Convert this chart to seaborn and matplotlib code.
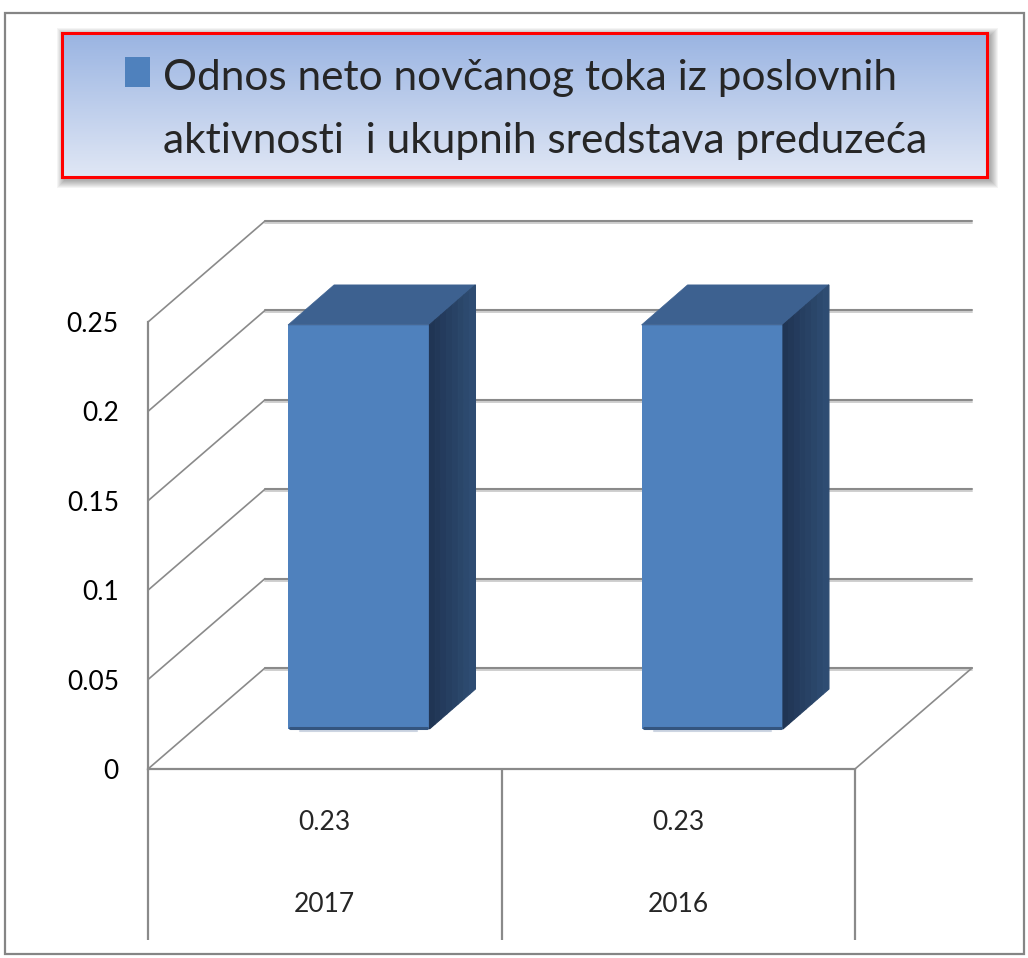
import matplotlib
matplotlib.use("Agg")
import matplotlib.pyplot as plt
import matplotlib.transforms as mtransforms
from matplotlib.colors import LinearSegmentedColormap
from matplotlib.patches import Polygon, Rectangle
import numpy as np
import seaborn as sns

# podaci
years = ["2017", "2016"]
ratio = [0.226, 0.226]
table_values = ["0.23", "0.23"]
legend_lines = ["Odnos neto novčanog toka iz poslovnih",
                "aktivnosti  i ukupnih sredstava preduzeća"]
y_ticks = [0, 0.05, 0.1, 0.15, 0.2, 0.25]
y_tick_labels = ["0", "0.05", "0.1", "0.15", "0.2", "0.25"]

W, H = 1028, 958
DPI = 100
BAR = "#4F81BD"
TOP = "#3d6190"
GRID = "#8a8a8a"
GRID_LIGHT = "#cfcfcf"

sns.set_style("white")
plt.rcParams["font.family"] = ["Liberation Sans Narrow", "Lato", "DejaVu Sans"]


def fx(px):
    return px / W


def fy(py):
    return 1 - py / H


def shift(dx, dy):
    # pomeranje u pikselima
    return mtransforms.ScaledTranslation(dx / DPI, dy / DPI, fig.dpi_scale_trans)


fig = plt.figure(figsize=(W / DPI, H / DPI), dpi=DPI)
ax = fig.add_axes([fx(148), fy(769), (855 - 148) / W, (769 - 322) / H])
ax.patch.set_alpha(0)

sns.barplot(x=years, y=ratio, ax=ax, color=BAR, saturation=1, width=0.40,
            zorder=3)
ax.set_xlim(-0.5, 1.5)
ax.set_ylim(0, 0.25)

ident = mtransforms.IdentityTransform()
depth = np.array([117, 101])

# zadnji zid i pod
back = ax.transData + shift(*depth)
for y in y_ticks:
    ax.plot([-0.5, 1.5], [y, y], transform=back + shift(0, -2), color=GRID_LIGHT,
            lw=1.4, clip_on=False, zorder=0.4)
    ax.plot([-0.5, 1.5], [y, y], transform=back, color=GRID, lw=1.5,
            clip_on=False, zorder=0.5)
    p0 = ax.transData.transform((-0.5, y))
    p1 = p0 + depth
    ax.plot([p0[0], p1[0]], [p0[1], p1[1]], transform=ident, color=GRID,
            lw=1.2, clip_on=False, zorder=0.5)
p0 = ax.transData.transform((1.5, 0))
p1 = p0 + depth
ax.plot([p0[0], p1[0]], [p0[1], p1[1]], transform=ident, color=GRID, lw=1.2,
        clip_on=False, zorder=0.5)

# 3D stubici
bar_shift = shift(34, 40)
bar_depth = np.array([46, 40])
side = LinearSegmentedColormap.from_list("side", ["#1f3352", "#2f4e74"])
for p in ax.patches:
    p.set_transform(ax.transData + bar_shift)
    p.set_edgecolor("none")
    (x0, y0), (x1, y1) = (ax.transData + bar_shift).transform(
        [[p.get_x(), p.get_y()], [p.get_x() + p.get_width(), p.get_y() + p.get_height()]])
    dx, dy = bar_depth
    ax.add_patch(Polygon([(x0, y1), (x1, y1), (x1 + dx, y1 + dy), (x0 + dx, y1 + dy)],
                         closed=True, transform=ident, facecolor=TOP,
                         edgecolor=TOP, lw=0.5, clip_on=False, zorder=3))
    n = 8
    for i in range(n):
        t0, t1 = i / n, (i + 1) / n
        c = side((i + 0.5) / n)
        ax.add_patch(Polygon([(x1 + dx * t0, y0 + dy * t0), (x1 + dx * t1, y0 + dy * t1),
                              (x1 + dx * t1, y1 + dy * t1), (x1 + dx * t0, y1 + dy * t0)],
                             closed=True, transform=ident, facecolor=c,
                             edgecolor=c, lw=0.8, clip_on=False, zorder=3))
    ax.plot([x0 + 2, x1 - 2], [y0 + 1.5, y0 + 1.5], transform=ident, color="#34557f",
            lw=2.2, solid_capstyle="round", clip_on=False, zorder=3.5)
    ax.plot([x0 + 12, x1 - 12], [y0 - 2, y0 - 2], transform=ident, color="#cdd5e2",
            lw=1.5, clip_on=False, zorder=3)

# ose
sns.despine(ax=ax, top=True, right=True)
for s in ["left", "bottom"]:
    ax.spines[s].set_color(GRID)
    ax.spines[s].set_linewidth(1.6)
ax.set_yticks(y_ticks, y_tick_labels)
ax.set_xticks([])
ax.set_xlabel("")
ax.set_ylabel("")
ax.tick_params(axis="y", length=6, width=1.5, color=GRID, pad=15,
               labelsize=19, labelcolor="black")

# tabela sa podacima
blend = mtransforms.blended_transform_factory(ax.transData, fig.transFigure)
ax.vlines([-0.5, 0.5, 1.5], fy(940), fy(769), transform=blend, colors=GRID,
          lw=1.6, clip_on=False)
for i in range(len(years)):
    ax.text(i, fy(822), table_values[i], transform=blend, ha="center",
            va="center", fontsize=19)
    ax.text(i, fy(905), years[i], transform=blend, ha="center", va="center",
            fontsize=19)

# legenda
lx0, lx1, ly0, ly1 = 62, 987, 33, 177
for k in range(1, 9):
    fig.add_artist(Rectangle((fx(lx0 - k + 3), fy(ly1 + k + 3)),
                             (lx1 - lx0 + 2 * k) / W, (ly1 - ly0 + 2 * k) / H,
                             transform=fig.transFigure, facecolor="black",
                             edgecolor="none", alpha=0.045, zorder=-2))
lax = fig.add_axes([fx(lx0), fy(ly1), (lx1 - lx0) / W, (ly1 - ly0) / H], zorder=1)
grad = LinearSegmentedColormap.from_list("leg", ["#9ab4e2", "#e0e7f5"])
lax.imshow(np.linspace(0, 1, 100).reshape(-1, 1), aspect="auto", cmap=grad,
           extent=[0, 1, 0, 1])
lax.set_xticks([])
lax.set_yticks([])
for s in lax.spines.values():
    s.set_color("#ff0000")
    s.set_linewidth(2.2)

fig.add_artist(Rectangle((fx(125), fy(87)), 25 / W, 30 / H,
                         transform=fig.transFigure, facecolor=BAR,
                         edgecolor="none", zorder=5))
fig.text(fx(163), fy(90), legend_lines[0], fontsize=30.5, va="baseline",
         ha="left", zorder=5)
fig.text(fx(163), fy(153), legend_lines[1], fontsize=30.5, va="baseline",
         ha="left", zorder=5)

# okvir
fig.add_artist(Rectangle((fx(5), fy(954)), (1024 - 5) / W, (954 - 13) / H,
                         transform=fig.transFigure, facecolor="none",
                         edgecolor="#858585", lw=1.6, zorder=6))

fig.savefig("out.png", dpi=DPI)
plt.close(fig)
